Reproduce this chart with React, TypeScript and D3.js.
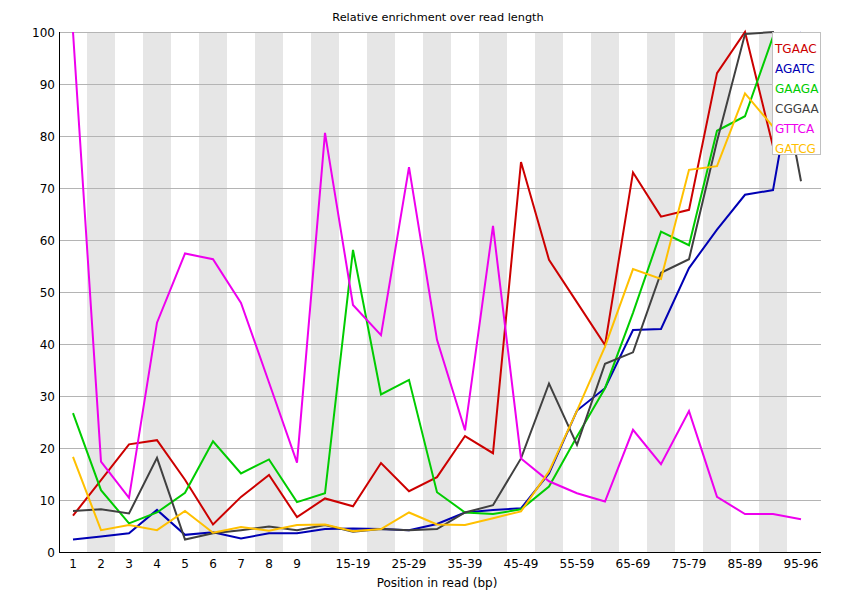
import * as d3 from "d3";
import React, { useEffect, useRef } from "react";

// categories along the read
const positions = [
  "1", "2", "3", "4", "5", "6", "7", "8", "9",
  "10-14", "15-19", "20-24", "25-29", "30-34", "35-39", "40-44", "45-49",
  "50-54", "55-59", "60-64", "65-69", "70-74", "75-79", "80-84", "85-89",
  "90-94", "95-96",
];

// labels that fit under the axis
const shownTicks = [
  "1", "2", "3", "4", "5", "6", "7", "8", "9",
  "15-19", "25-29", "35-39", "45-49", "55-59", "65-69", "75-79", "85-89", "95-96",
];

const yTicks = [0, 10, 20, 30, 40, 50, 60, 70, 80, 90, 100];

const kmerNames = ["TGAAC", "AGATC", "GAAGA", "CGGAA", "GTTCA", "GATCG"];
const kmerColours = ["#cc0000", "#0000b4", "#00cc00", "#404040", "#ee00ee", "#ffc000"];

const tgaac = [7, 13.8, 20.7, 21.5, 13.9, 5.3, 10.6, 14.8, 6.7, 10.3, 8.8, 17.1, 11.7, 14.4, 22.3, 19, 75, 56.2, 48, 39.8, 73, 64.5, 65.8, 92.1, 100, 78, 82];
const agatc = [2.4, 3.0, 3.6, 8.1, 3.3, 3.8, 2.6, 3.6, 3.6, 4.4, 4.5, 4.4, 4.2, 5.4, 7.6, 8.1, 8.4, 15.1, 27.2, 31.5, 42.7, 42.9, 54.6, 62.0, 68.7, 69.6, 100];
const gaaga = [26.7, 11.9, 5.5, 7.6, 11.4, 21.3, 15.1, 17.8, 9.6, 11.3, 58.1, 30.3, 33.1, 11.5, 7.6, 7.3, 8.2, 12.6, 22.2, 31.5, 46, 61.6, 59, 81, 83.8, 99.1, 95];
const cggaa = [7.9, 8.2, 7.4, 18.1, 2.4, 3.6, 4.2, 4.9, 4.2, 5.2, 3.9, 4.4, 4.2, 4.4, 7.6, 9.0, 18.0, 32.4, 20.6, 36.2, 38.4, 53.7, 56.3, 79, 99.6, 100, 71.3];
const gttca = [100, 17.4, 10.4, 44.1, 57.4, 56.3, 47.9, 32.6, 17.2, 80.6, 47.5, 41.7, 74, 40.8, 23.4, 62.7, 18, 13.6, 11.3, 9.7, 23.5, 16.9, 27.1, 10.6, 7.3, 7.3, 6.3];
const gatcg = [18.3, 4.2, 5.2, 4.2, 7.9, 3.7, 4.8, 4.1, 5.2, 5.3, 4.0, 4.4, 7.6, 5.3, 5.2, 6.5, 7.8, 15.5, 27.2, 39.5, 54.4, 52.5, 73.5, 74.2, 88.2, 81.8, 85];

const seriesValues = [tgaac, agatc, gaaga, cggaa, gttca, gatcg];

const App: React.FC = () => {
  const svgRef = useRef<SVGSVGElement>(null);
  const width = 868;
  const height = 599;

  useEffect(() => {
    if (!svgRef.current) return;
    document.body.style.margin = "0";

    const left = 59;
    const top = 32;
    const bottom = 552;
    const right = 821;
    const step = Math.floor((right - left) / positions.length);

    d3.select(svgRef.current).selectAll("*").remove();

    const svg = d3
      .select(svgRef.current)
      .attr("width", width)
      .attr("height", height)
      .style("background-color", "#ffffff")
      .style("font-family", "'DejaVu Sans', sans-serif");

    const x = d3
      .scaleBand()
      .domain(positions)
      .range([left, left + step * positions.length])
      .padding(0);
    const y = d3.scaleLinear().domain([0, 100]).range([bottom, top]);
    const cx = (d: string) => (x(d) || 0) + x.bandwidth() / 2;

    // Alternating bands
    svg
      .append("g")
      .selectAll("rect")
      .data(positions.filter((d, i) => i % 2 === 1))
      .join("rect")
      .attr("x", (d) => x(d) || 0)
      .attr("y", top)
      .attr("width", x.bandwidth())
      .attr("height", bottom - top)
      .attr("fill", "#e6e6e6");

    // Horizontal grid
    svg
      .append("g")
      .selectAll("line")
      .data(yTicks.filter((t) => t > 0))
      .join("line")
      .attr("x1", left)
      .attr("x2", right)
      .attr("y1", (d) => y(d) + 0.5)
      .attr("y2", (d) => y(d) + 0.5)
      .attr("stroke", "#b4b4b4")
      .attr("stroke-width", 1);

    // Axes
    svg
      .append("line")
      .attr("x1", left + 0.5)
      .attr("x2", left + 0.5)
      .attr("y1", top)
      .attr("y2", bottom + 0.5)
      .attr("stroke", "#000");
    svg
      .append("line")
      .attr("x1", left)
      .attr("x2", right)
      .attr("y1", bottom + 0.5)
      .attr("y2", bottom + 0.5)
      .attr("stroke", "#000");

    // Y labels
    svg
      .append("g")
      .selectAll("text")
      .data(yTicks)
      .join("text")
      .attr("x", 55)
      .attr("y", (d) => y(d) + 4.5)
      .attr("text-anchor", "end")
      .attr("font-size", 12)
      .text((d) => d);

    // X labels
    svg
      .append("g")
      .selectAll("text")
      .data(shownTicks)
      .join("text")
      .attr("x", (d) => cx(d))
      .attr("y", 568)
      .attr("text-anchor", "middle")
      .attr("font-size", 12)
      .text((d) => d);

    // Lines
    const line = d3
      .line<number>()
      .x((d, i) => cx(positions[i]))
      .y((d) => y(d));

    svg
      .append("g")
      .selectAll("path")
      .data(seriesValues)
      .join("path")
      .attr("fill", "none")
      .attr("stroke", (d, i) => kmerColours[i])
      .attr("stroke-width", 2)
      .attr("stroke-linejoin", "miter")
      .attr("d", (d) => line(d) || "");

    // Title
    svg
      .append("text")
      .attr("x", 438)
      .attr("y", 21)
      .attr("text-anchor", "middle")
      .attr("font-size", 11.3)
      .text("Relative enrichment over read length");

    // Axis title
    svg
      .append("text")
      .attr("x", 437)
      .attr("y", 587)
      .attr("text-anchor", "middle")
      .attr("font-size", 12)
      .text("Position in read (bp)");

    // Legend
    const legend = svg.append("g");
    legend
      .append("rect")
      .attr("x", 772.5)
      .attr("y", 32.5)
      .attr("width", 48)
      .attr("height", 122)
      .attr("fill", "#ffffff")
      .attr("stroke", "#c0c0c0");
    legend
      .selectAll("text")
      .data(kmerNames)
      .join("text")
      .attr("x", 775)
      .attr("y", (d, i) => 52.5 + i * 20)
      .attr("font-size", 12)
      .attr("fill", (d, i) => kmerColours[i])
      .text((d) => d);
  }, []);

  return <svg ref={svgRef} style={{ display: "block" }} />;
};

export default App;
